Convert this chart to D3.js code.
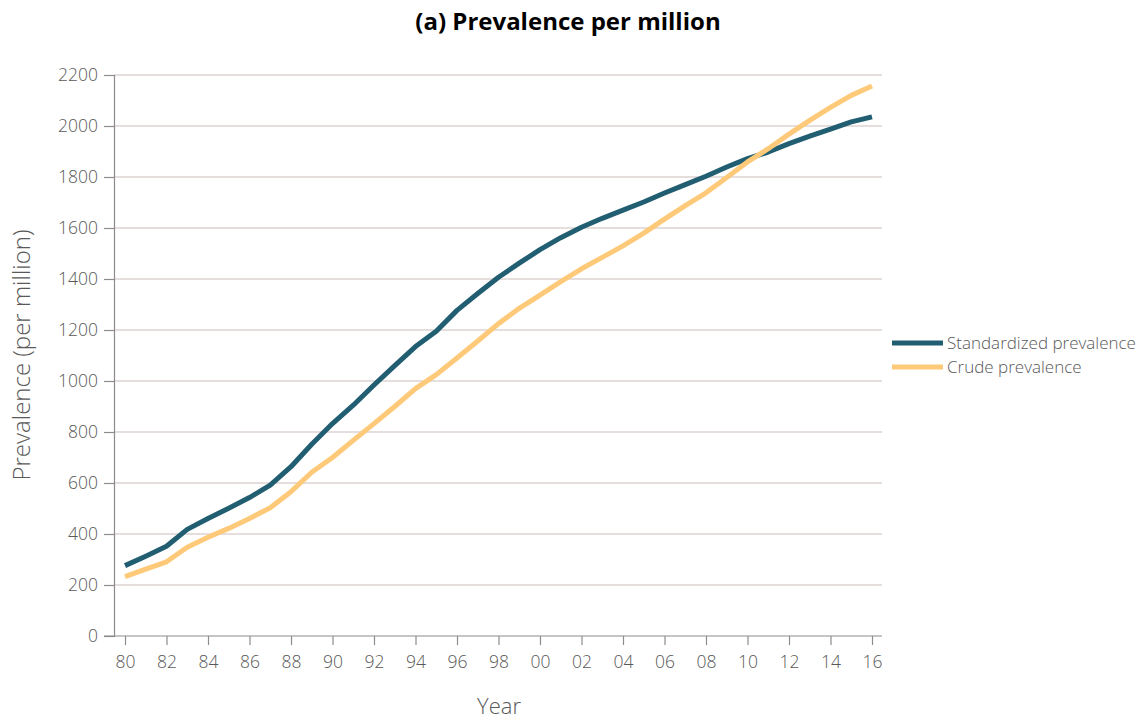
<!DOCTYPE html>
<html>
<head>
<meta charset="utf-8">
<script src="https://cdn.jsdelivr.net/npm/d3@7"></script>
<style>
  html, body { margin: 0; padding: 0; background: #fff; }
  svg { display: block; }
</style>
</head>
<body>
<svg id="chart" width="1145" height="719"></svg>
<script>
// Prevalence per million, 1980–2016
const years = d3.range(1980, 2017);
const standardized = [276, 313, 352, 418, 461, 501, 543, 592, 664, 752, 833, 905, 984, 1060, 1135, 1195, 1277, 1343, 1407, 1462, 1515, 1562, 1603, 1638, 1670, 1702, 1737, 1770, 1803, 1839, 1872, 1898, 1931, 1960, 1988, 2016, 2036];
const crude = [233, 262, 291, 348, 387, 422, 461, 503, 566, 642, 700, 767, 833, 900, 970, 1025, 1090, 1157, 1225, 1285, 1337, 1390, 1440, 1485, 1530, 1580, 1635, 1688, 1738, 1798, 1859, 1911, 1968, 2022, 2073, 2120, 2157];
const yTicks = [0, 200, 400, 600, 800, 1000, 1200, 1400, 1600, 1800, 2000, 2200];
const xTickYears = d3.range(1980, 2017, 2);
const seriesNames = ["Standardized prevalence", "Crude prevalence"];
const seriesColors = ["#215e72", "#fec978"];

const svg = d3.select("#chart");
const plot = { left: 114, right: 882, top: 75, bottom: 636 };

const x = d3.scaleLinear().domain([1980, 2016]).range([125, 872]);
const y = d3.scaleLinear().domain([0, 2200]).range([plot.bottom, plot.top]);

const labelFont = "'Open Sans', sans-serif";

// Title
svg.append("text")
  .attr("x", 568).attr("y", 30)
  .attr("text-anchor", "middle")
  .attr("font-family", "'Open Sans', sans-serif")
  .attr("font-weight", 700)
  .attr("font-size", 24)
  .attr("fill", "#000")
  .text("(a) Prevalence per million");

// Horizontal gridlines
svg.append("g")
  .selectAll("line")
  .data(yTicks.filter(d => d > 0))
  .join("line")
  .attr("x1", plot.left).attr("x2", plot.right)
  .attr("y1", d => y(d)).attr("y2", d => y(d))
  .attr("stroke", "#dcd3d1").attr("stroke-width", 1.5);

// Y axis
const yAxis = svg.append("g")
  .attr("transform", `translate(${plot.left},0)`)
  .call(d3.axisLeft(y).tickValues(yTicks).tickSize(10).tickPadding(6).tickFormat(d3.format("d")));
yAxis.select(".domain").attr("stroke", "#8c8c8c").attr("stroke-width", 1.2);
yAxis.selectAll(".tick line").attr("stroke", "#8c8c8c").attr("stroke-width", 1.2);
yAxis.selectAll(".tick text")
  .attr("font-family", labelFont).attr("font-weight", 300).attr("font-size", 17.5).attr("fill", "#595959");

// X axis
const xAxis = svg.append("g")
  .attr("transform", `translate(0,${plot.bottom})`)
  .call(d3.axisBottom(x).tickValues(xTickYears).tickSize(9).tickPadding(11)
    .tickFormat(d => String(d % 100).padStart(2, "0")));
xAxis.select(".domain").remove();
xAxis.append("line")
  .attr("x1", 104).attr("x2", plot.right)
  .attr("y1", 0).attr("y2", 0)
  .attr("stroke", "#8c8c8c").attr("stroke-width", 1.2);
xAxis.selectAll(".tick line").attr("stroke", "#8c8c8c").attr("stroke-width", 1.2);
xAxis.selectAll(".tick text")
  .attr("font-family", labelFont).attr("font-weight", 300).attr("font-size", 17.5).attr("fill", "#595959");

// Axis titles
svg.append("text")
  .attr("x", 499).attr("y", 714)
  .attr("text-anchor", "middle")
  .attr("font-family", labelFont).attr("font-weight", 300).attr("font-size", 22).attr("fill", "#595959")
  .text("Year");

svg.append("text")
  .attr("transform", "translate(30,355) rotate(-90)")
  .attr("text-anchor", "middle")
  .attr("font-family", labelFont).attr("font-weight", 300).attr("font-size", 24).attr("fill", "#595959")
  .text("Prevalence (per million)");

// Series lines
const line = d3.line()
  .x((d, i) => x(years[i]))
  .y(d => y(d));

[standardized, crude].forEach((values, k) => {
  svg.append("path")
    .datum(values)
    .attr("d", line)
    .attr("fill", "none")
    .attr("stroke", seriesColors[k])
    .attr("stroke-width", 5)
    .attr("stroke-linejoin", "round");
});

// Legend
const legend = svg.append("g").attr("transform", "translate(892,343)");
seriesNames.forEach((name, k) => {
  const row = legend.append("g").attr("transform", `translate(0,${k * 24})`);
  row.append("line")
    .attr("x1", 0).attr("x2", 51)
    .attr("stroke", seriesColors[k]).attr("stroke-width", 5);
  row.append("text")
    .attr("x", 55).attr("y", 6)
    .attr("font-family", labelFont).attr("font-weight", 300).attr("font-size", 17).attr("fill", "#595959")
    .text(name);
});
</script>
</body>
</html>
